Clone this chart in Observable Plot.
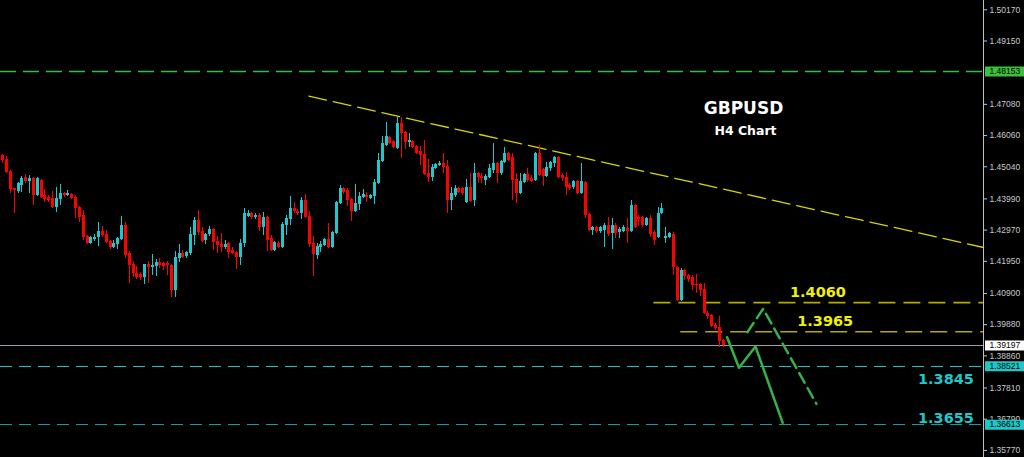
<!DOCTYPE html>
<html><head><meta charset="utf-8">
<script src="https://cdn.jsdelivr.net/npm/d3@7"></script>
<script src="https://cdn.jsdelivr.net/npm/@observablehq/plot@0.6"></script>
<style>html,body{margin:0;padding:0;background:#000;overflow:hidden}</style>
</head><body><div id="chart"></div>
<script>
// GBPUSD H4 candles
const openP = [1.4541,1.4528,1.4488,1.4433,1.4423,1.4443,1.4468,1.4456,1.4465,1.4410,1.4459,1.4410,1.4403,1.4400,1.4370,1.4396,1.4416,1.4410,1.4413,1.4403,
1.4370,1.4345,1.4275,1.4252,1.4266,1.4272,1.4292,1.4282,1.4259,1.4239,1.4249,1.4266,1.4312,1.4220,1.4184,1.4154,1.4151,1.4141,1.4184,1.4174,
1.4177,1.4190,1.4187,1.4187,1.4181,1.4099,1.4204,1.4220,1.4210,1.4220,1.4279,1.4328,1.4292,1.4262,1.4282,1.4298,1.4259,1.4249,1.4239,1.4252,
1.4230,1.4223,1.4207,1.4252,1.4341,1.4351,1.4338,1.4345,1.4305,1.4338,1.4269,1.4230,1.4252,1.4239,1.4312,1.4331,1.4367,1.4357,1.4351,1.4393,
1.4341,1.4252,1.4214,1.4239,1.4246,1.4266,1.4239,1.4285,1.4383,1.4433,1.4426,1.4396,1.4357,1.4380,1.4403,1.4410,1.4400,1.4406,1.4449,1.4521,
1.4573,1.4599,1.4586,1.4563,1.4645,1.4615,1.4583,1.4586,1.4570,1.4553,1.4544,1.4481,1.4468,1.4498,1.4508,1.4514,1.4504,1.4393,1.4410,1.4433,
1.4433,1.4386,1.4436,1.4393,1.4481,1.4471,1.4459,1.4468,1.4491,1.4514,1.4481,1.4518,1.4547,1.4534,1.4462,1.4416,1.4452,1.4478,1.4465,1.4459,
1.4547,1.4494,1.4471,1.4498,1.4514,1.4534,1.4475,1.4468,1.4443,1.4436,1.4456,1.4416,1.4452,1.4348,1.4295,1.4305,1.4292,1.4295,1.4312,1.4285,
1.4312,1.4288,1.4292,1.4302,1.4292,1.4377,1.4338,1.4338,1.4312,1.4335,1.4288,1.4272,1.4351,1.4269,1.4272,1.4282,1.4174,1.4066,1.4164,1.4148,
1.4141,1.4118,1.4118,1.4102,1.4026,1.4017,1.3984,1.3978,1.3935];
const highP = [1.4544,1.4537,1.4491,1.4433,1.4452,1.4471,1.4478,1.4475,1.4468,1.4468,1.4462,1.4430,1.4410,1.4423,1.4436,1.4446,1.4419,1.4426,1.4416,1.4410,
1.4373,1.4361,1.4279,1.4275,1.4282,1.4321,1.4308,1.4295,1.4262,1.4262,1.4272,1.4341,1.4321,1.4227,1.4194,1.4177,1.4157,1.4184,1.4194,1.4217,
1.4200,1.4204,1.4190,1.4194,1.4184,1.4227,1.4249,1.4230,1.4227,1.4305,1.4338,1.4361,1.4305,1.4285,1.4308,1.4302,1.4275,1.4285,1.4262,1.4255,
1.4239,1.4226,1.4266,1.4367,1.4361,1.4354,1.4351,1.4351,1.4354,1.4341,1.4279,1.4259,1.4259,1.4321,1.4345,1.4406,1.4386,1.4364,1.4403,1.4413,
1.4357,1.4275,1.4252,1.4259,1.4269,1.4318,1.4292,1.4390,1.4443,1.4436,1.4433,1.4400,1.4446,1.4419,1.4430,1.4419,1.4413,1.4462,1.4547,1.4602,
1.4648,1.4602,1.4589,1.4664,1.4664,1.4619,1.4612,1.4589,1.4573,1.4570,1.4589,1.4527,1.4511,1.4514,1.4521,1.4547,1.4524,1.4436,1.4443,1.4436,
1.4436,1.4462,1.4481,1.4514,1.4484,1.4481,1.4478,1.4511,1.4580,1.4518,1.4524,1.4566,1.4550,1.4547,1.4481,1.4481,1.4481,1.4498,1.4475,1.4550,
1.4573,1.4498,1.4518,1.4521,1.4537,1.4537,1.4481,1.4484,1.4449,1.4459,1.4459,1.4514,1.4456,1.4351,1.4308,1.4308,1.4308,1.4318,1.4338,1.4335,
1.4318,1.4305,1.4312,1.4335,1.4393,1.4380,1.4345,1.4341,1.4338,1.4345,1.4295,1.4370,1.4383,1.4305,1.4288,1.4288,1.4177,1.4171,1.4167,1.4151,
1.4148,1.4151,1.4121,1.4121,1.4030,1.4020,1.3991,1.4014,1.3938];
const lowP = [1.4514,1.4481,1.4416,1.4351,1.4416,1.4419,1.4449,1.4416,1.4377,1.4406,1.4400,1.4386,1.4386,1.4367,1.4354,1.4377,1.4403,1.4406,1.4396,1.4335,
1.4321,1.4262,1.4249,1.4249,1.4259,1.4243,1.4272,1.4252,1.4233,1.4236,1.4233,1.4262,1.4204,1.4121,1.4141,1.4134,1.4131,1.4118,1.4124,1.4148,
1.4144,1.4171,1.4164,1.4148,1.4076,1.4076,1.4190,1.4204,1.4204,1.4214,1.4246,1.4279,1.4256,1.4249,1.4275,1.4230,1.4220,1.4223,1.4233,1.4204,
1.4217,1.4167,1.4181,1.4239,1.4338,1.4331,1.4331,1.4292,1.4279,1.4226,1.4226,1.4226,1.4236,1.4236,1.4279,1.4312,1.4351,1.4345,1.4331,1.4335,
1.4239,1.4144,1.4200,1.4223,1.4243,1.4236,1.4236,1.4282,1.4380,1.4413,1.4374,1.4325,1.4354,1.4361,1.4400,1.4386,1.4396,1.4380,1.4446,1.4518,
1.4570,1.4576,1.4563,1.4560,1.4531,1.4560,1.4566,1.4563,1.4544,1.4508,1.4475,1.4452,1.4456,1.4494,1.4504,1.4481,1.4351,1.4361,1.4403,1.4416,
1.4410,1.4383,1.4386,1.4374,1.4449,1.4449,1.4443,1.4465,1.4481,1.4449,1.4475,1.4514,1.4521,1.4393,1.4383,1.4413,1.4449,1.4452,1.4452,1.4456,
1.4471,1.4439,1.4468,1.4488,1.4501,1.4465,1.4456,1.4410,1.4426,1.4430,1.4413,1.4413,1.4335,1.4292,1.4279,1.4285,1.4285,1.4239,1.4275,1.4233,
1.4269,1.4269,1.4288,1.4252,1.4288,1.4302,1.4308,1.4305,1.4308,1.4272,1.4246,1.4269,1.4348,1.4252,1.4269,1.4148,1.4063,1.4063,1.4131,1.4125,
1.4099,1.4089,1.4079,1.4020,1.4004,1.3978,1.3968,1.3912,1.3912];
const closeP = [1.4524,1.4484,1.4430,1.4426,1.4449,1.4465,1.4456,1.4465,1.4410,1.4465,1.4403,1.4396,1.4393,1.4370,1.4400,1.4416,1.4410,1.4416,1.4400,1.4367,
1.4338,1.4272,1.4252,1.4272,1.4272,1.4292,1.4279,1.4256,1.4239,1.4252,1.4269,1.4312,1.4214,1.4181,1.4154,1.4141,1.4141,1.4184,1.4174,1.4181,
1.4190,1.4181,1.4177,1.4181,1.4099,1.4207,1.4220,1.4207,1.4223,1.4282,1.4328,1.4288,1.4259,1.4282,1.4298,1.4256,1.4246,1.4239,1.4249,1.4223,
1.4220,1.4207,1.4252,1.4351,1.4351,1.4338,1.4345,1.4305,1.4338,1.4262,1.4230,1.4256,1.4239,1.4315,1.4335,1.4367,1.4357,1.4351,1.4393,1.4338,
1.4249,1.4217,1.4243,1.4249,1.4266,1.4239,1.4288,1.4386,1.4433,1.4419,1.4393,1.4357,1.4383,1.4406,1.4413,1.4403,1.4410,1.4452,1.4524,1.4580,
1.4602,1.4580,1.4566,1.4645,1.4612,1.4583,1.4589,1.4566,1.4547,1.4541,1.4478,1.4468,1.4501,1.4511,1.4514,1.4501,1.4393,1.4416,1.4433,1.4419,
1.4416,1.4436,1.4390,1.4481,1.4468,1.4465,1.4471,1.4498,1.4514,1.4481,1.4521,1.4547,1.4524,1.4459,1.4416,1.4456,1.4478,1.4459,1.4456,1.4547,
1.4475,1.4471,1.4501,1.4518,1.4534,1.4468,1.4465,1.4436,1.4433,1.4456,1.4416,1.4456,1.4345,1.4295,1.4305,1.4292,1.4305,1.4312,1.4282,1.4312,
1.4285,1.4298,1.4305,1.4292,1.4377,1.4305,1.4331,1.4312,1.4335,1.4282,1.4262,1.4351,1.4367,1.4275,1.4285,1.4174,1.4066,1.4164,1.4144,1.4134,
1.4115,1.4115,1.4099,1.4023,1.4014,1.3981,1.3974,1.3932,1.3920];

// price axis labels
const yTicks = [1.50170,1.49150,1.47080,1.46060,1.45040,1.43990,1.42970,1.41950,1.40900,1.39880,1.38860,1.37810,1.36790,1.35770];

// horizontal levels
const greenLevel = 1.48153;
const bidLevel = 1.39197;
const cyanLevels = [1.38521, 1.36613];
const yellowLevels = [1.4060, 1.3965];
const yellowStart = [169.9, 176.9];     // candle index where the dashed levels begin
const levelText = ["1.4060", "1.3965", "1.3845", "1.3655"];
const levelTextVal = [1.4060, 1.3965, 1.38521, 1.36613];
const levelTextX = [212.7, 214.6, 246.1, 246.1];

// trend line (candle index, price)
const trendLine = [{x: 79.85, y: 1.47346}, {x: 255.9, y: 1.42402}];
// projected paths
const solidPath = [{x:189.0,y:1.39471},{x:192.1,y:1.38471},{x:196.4,y:1.39167},{x:203.5,y:1.36673}];
const dashedPath = [{x:194.3,y:1.39634},{x:198.4,y:1.40399},{x:212.3,y:1.37294}];

const X_MIN = -0.6, X_MAX = 255.9;
const candles = openP.map((o, i) => ({i, o, h: highP[i], l: lowP[i], c: closeP[i], dir: closeP[i] >= o ? "up" : "down"}));

const CYAN = "#1ec8cc", RED = "#ff0000";
const ann = {fontFamily: "DejaVu Sans", fontWeight: "bold"};
const crisp = {shapeRendering: "crispEdges"};

const chart = Plot.plot({
  width: 1024, height: 457,
  marginLeft: 0, marginRight: 41, marginTop: 0, marginBottom: 0,
  style: {background: "#000", fontFamily: "Liberation Sans", overflow: "visible"},
  x: {domain: [X_MIN, X_MAX], axis: null},
  y: {domain: [1.35539, 1.50474]},
  color: {domain: ["up", "down"], range: [CYAN, RED]},
  marks: [
    // levels
    Plot.ruleY([greenLevel], {stroke: "#2fc04a", strokeWidth: 1.3, strokeDasharray: "16,7"}),
    Plot.ruleY([bidLevel], {stroke: "#9aa0b0", strokeWidth: 1, ...crisp}),
    Plot.ruleY([cyanLevels[0]], {stroke: "#20c0c8", strokeWidth: 1, strokeDasharray: "12,7", ...crisp}),
    Plot.ruleY([cyanLevels[1]], {stroke: "#1a9aa0", strokeWidth: 1, strokeDasharray: "12,7", ...crisp}),
    Plot.ruleY(yellowLevels, {y: d => d, x1: (d, i) => yellowStart[i], x2: X_MAX, stroke: "#b4aa00", strokeWidth: 1.6, strokeDasharray: "17,8"}),
    Plot.line(trendLine, {x: "x", y: "y", stroke: "#d6d600", strokeWidth: 1.3, strokeDasharray: "18,7"}),
    // candles
    Plot.ruleX(candles, {x: "i", y1: "l", y2: "h", stroke: "dir", strokeWidth: 1, ...crisp}),
    Plot.ruleX(candles, {x: "i", y1: "o", y2: "c", stroke: "dir", strokeWidth: 3, ...crisp}),
    // projections
    Plot.line(solidPath, {x: "x", y: "y", stroke: "#33b34a", strokeWidth: 2.5}),
    Plot.line(dashedPath, {x: "x", y: "y", stroke: "#33b34a", strokeWidth: 2.5, strokeDasharray: "11,6"}),
    // level labels
    Plot.text(levelText.slice(0, 2), {x: (d, i) => levelTextX[i], y: (d, i) => levelTextVal[i], text: d => d, dy: -10, fill: "#f2f200", fontSize: 14.5, ...ann}),
    Plot.text([levelText[2]], {x: levelTextX[2], y: levelTextVal[2], text: d => d, dy: 13, fill: CYAN, fontSize: 14.5, ...ann}),
    Plot.text([levelText[3]], {x: levelTextX[3], y: levelTextVal[3], text: d => d, dy: -6, fill: CYAN, fontSize: 14.5, ...ann}),
    // title
    Plot.text(["GBPUSD"], {frameAnchor: "top-left", dx: 743, dy: 101, textAnchor: "middle", text: d => d, fill: "#fff", fontSize: 17, ...ann}),
    Plot.text(["H4 Chart"], {frameAnchor: "top-left", dx: 745, dy: 126, textAnchor: "middle", text: d => d, fill: "#fff", fontSize: 12.5, ...ann}),
    // price axis
    Plot.ruleX([X_MAX], {stroke: "#c0c0c0", strokeWidth: 1, ...crisp}),
    Plot.axisY({anchor: "right", ticks: yTicks, tickFormat: d => d.toFixed(5), tickSize: 3, tickPadding: 3, color: "#c8c8c8", fontSize: 8.5, label: null}),
    // price boxes
    Plot.ruleY([greenLevel], {stroke: "#3cc03c", strokeWidth: 10, insetLeft: 985, insetRight: -41}),
    Plot.ruleY([bidLevel], {stroke: "#ffffff", strokeWidth: 10, insetLeft: 985, insetRight: -41}),
    Plot.ruleY(cyanLevels, {stroke: "#1ec8c8", strokeWidth: 10, insetLeft: 985, insetRight: -41}),
    Plot.text([greenLevel, bidLevel, ...cyanLevels], {y: d => d, text: d => d.toFixed(5), frameAnchor: "right", dx: 6, textAnchor: "start", fill: "#000", fontSize: 8.5})
  ]
});
document.getElementById("chart").appendChild(chart);
</script>
</body></html>
